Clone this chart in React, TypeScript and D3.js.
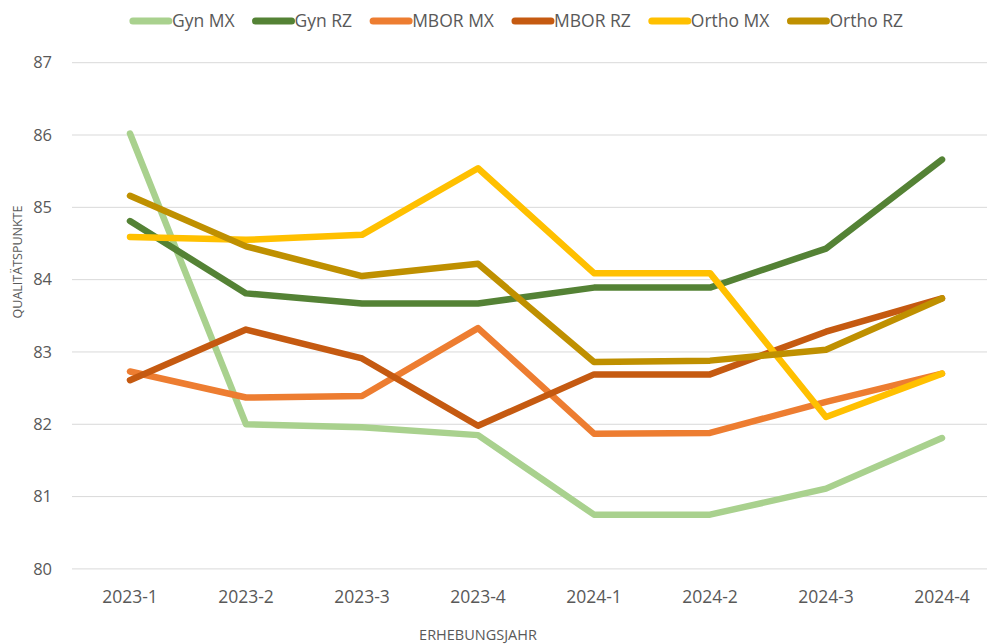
import React, { useEffect, useRef } from "react";
import * as d3 from "d3";

const categories = ["2023-1", "2023-2", "2023-3", "2023-4", "2024-1", "2024-2", "2024-3", "2024-4"];
const seriesNames = ["Gyn MX", "Gyn RZ", "MBOR MX", "MBOR RZ", "Ortho MX", "Ortho RZ"];
const seriesColors = ["#A9D18E", "#548235", "#ED7D31", "#C55A11", "#FFC000", "#BF9000"];
const gynMX = [86.02, 82.0, 81.96, 81.85, 80.75, 80.75, 81.11, 81.81];
const gynRZ = [84.81, 83.81, 83.67, 83.67, 83.89, 83.89, 84.43, 85.66];
const mborMX = [82.73, 82.37, 82.39, 83.33, 81.87, 81.88, 82.31, 82.7];
const mborRZ = [82.61, 83.31, 82.91, 81.98, 82.69, 82.69, 83.28, 83.74];
const orthoMX = [84.59, 84.55, 84.62, 85.54, 84.09, 84.09, 82.1, 82.7];
const orthoRZ = [85.16, 84.46, 84.05, 84.22, 82.86, 82.88, 83.03, 83.74];
const yTicks = [80, 81, 82, 83, 84, 85, 86, 87];
const seriesValues = [gynMX, gynRZ, mborMX, mborRZ, orthoMX, orthoRZ];

const W = 987;
const H = 644;
const FONT = "'Open Sans', 'Noto Sans', sans-serif";
const TEXT = "#595959";

export default function App() {
  const ref = useRef<SVGSVGElement | null>(null);

  useEffect(() => {
    const svg = d3.select(ref.current);
    svg.selectAll("*").remove();

    const x = d3.scalePoint<string>().domain(categories).range([72, 1000]).padding(0.5);
    const y = d3.scaleLinear().domain([80, 87]).range([568.9, 62.7]);

    // gridlines
    svg.append("g")
      .selectAll("line")
      .data(yTicks)
      .join("line")
      .attr("x1", 72)
      .attr("x2", 1000)
      .attr("y1", (d) => y(d))
      .attr("y2", (d) => y(d))
      .attr("stroke", "#D9D9D9")
      .attr("stroke-width", 1);

    // y tick labels
    svg.append("g")
      .selectAll("text")
      .data(yTicks)
      .join("text")
      .attr("x", 52)
      .attr("y", (d) => y(d))
      .attr("dy", "0.35em")
      .attr("text-anchor", "end")
      .attr("font-family", FONT)
      .attr("font-size", 16.5)
      .attr("fill", TEXT)
      .text((d) => String(d));

    // x tick labels
    svg.append("g")
      .selectAll("text")
      .data(categories)
      .join("text")
      .attr("x", (d) => x(d) as number)
      .attr("y", 603)
      .attr("text-anchor", "middle")
      .attr("font-family", FONT)
      .attr("font-size", 17.5)
      .attr("fill", TEXT)
      .text((d) => d);

    // axis titles
    svg.append("text")
      .attr("x", 478)
      .attr("y", 640)
      .attr("text-anchor", "middle")
      .attr("font-family", FONT)
      .attr("font-size", 14.5)
      .attr("fill", TEXT)
      .text("ERHEBUNGSJAHR");

    svg.append("text")
      .attr("transform", "translate(22,262) rotate(-90)")
      .attr("text-anchor", "middle")
      .attr("font-family", FONT)
      .attr("font-size", 12.5)
      .attr("fill", TEXT)
      .text("QUALITÄTSPUNKTE");

    // lines
    const line = d3.line<number>()
      .x((_, i) => x(categories[i]) as number)
      .y((d) => y(d));

    svg.append("g")
      .selectAll("path")
      .data(seriesValues)
      .join("path")
      .attr("d", (d) => line(d))
      .attr("fill", "none")
      .attr("stroke", (_, i) => seriesColors[i])
      .attr("stroke-width", 6.5)
      .attr("stroke-linecap", "round")
      .attr("stroke-linejoin", "round");

    // legend
    const lg = svg.append("g");
    const items = seriesNames.map((name, i) => {
      const g = lg.append("g");
      g.append("line")
        .attr("x1", 0)
        .attr("x2", 36)
        .attr("y1", 0)
        .attr("y2", 0)
        .attr("stroke", seriesColors[i])
        .attr("stroke-width", 7)
        .attr("stroke-linecap", "round");
      const t = g.append("text")
        .attr("x", 39)
        .attr("y", 0)
        .attr("dy", "0.35em")
        .attr("font-family", FONT)
        .attr("font-size", 17.5)
        .attr("fill", TEXT)
        .text(name);
      const w = (t.node() as SVGTextElement).getComputedTextLength();
      return { g, w: 39 + w };
    });
    const gap = 21;
    const total = items.reduce((s, it) => s + it.w, 0) + gap * (items.length - 1);
    let cx = 518 - total / 2;
    items.forEach((it) => {
      it.g.attr("transform", `translate(${cx},21)`);
      cx += it.w + gap;
    });
  }, []);

  return (
    <svg ref={ref} width={W} height={H} style={{ position: "absolute", left: 0, top: 0, background: "#fff" }} />
  );
}
